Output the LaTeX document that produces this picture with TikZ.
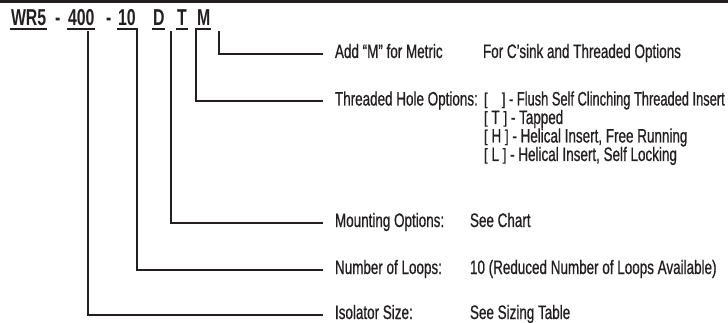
\documentclass[tikz,border=0pt]{standalone}
\usepackage{fontspec}
\setmainfont[FakeStretch=0.69,FakeBold=0.7]{Liberation Sans}
\newfontfamily\hdrfont[FakeStretch=0.69]{Liberation Sans}
\definecolor{ink}{HTML}{231F20}
\newcommand\lbrk{\raisebox{0.8pt}{\scalebox{1}[0.85]{[}}}
\newcommand\rbrk{\raisebox{0.8pt}{\scalebox{1}[0.85]{]}}}
\begin{document}
\begin{tikzpicture}[x=1pt,y=-1pt,line width=2pt,draw=ink,line join=miter,
  lbl/.style={anchor=base west,inner xsep=11pt,inner ysep=0pt,text=ink,font=\fontsize{19.5}{19.5}\selectfont},
  val/.style={anchor=base west,inner sep=0pt,text=ink,font=\fontsize{19.5}{19.5}\selectfont},
  hdr/.style={anchor=base west,inner sep=0pt,text=ink,font=\hdrfont\bfseries\fontsize{23}{23}\selectfont}]
\useasboundingbox (0,0) rectangle (728,323);
\fill[ink] (0,0) rectangle (728,2.8);
% header
\node[hdr] (wr5) at (10,26) {WR5};
\node[hdr] (d1) at (54,26) {-};
\node[hdr] (f400) at (67,26) {400};
\node[hdr] (d2) at (105,26) {-};
\node[hdr] (ten) at (117,26) {10};
\node[hdr] (dd) at (152,26) {D};
\node[hdr] (tt) at (176,26) {T};
\node[hdr] (mm) at (196,26) {M};
\foreach \n in {wr5,f400,dd,tt}
  \draw ([yshift=-3.5pt]\n.base west) -- ([yshift=-3.5pt]\n.base east);
% start points
\coordinate (cA) at (219.3,31);
\coordinate (cC) at (171,31);
\coordinate (cE) at (88,31);
% labels
\node[lbl] (addm) at (323,58) {Add “M” for Metric};
\node[val] (addmv) at (482,58) {For C’sink and Threaded Options};
\node[lbl] (thr) at (323,105.5) {Threaded Hole Options:};
\node[val] (t0) at (483,105.5) {\scalebox{0.955}[1]{\lbrk\hspace{15pt}\rbrk{} - Flush Self Clinching Threaded Insert}};
\node[val] (t1) at (483,124) {\lbrk{} T \rbrk{} - Tapped};
\node[val] (t2) at (483,142.5) {\lbrk{} H \rbrk{} - Helical Insert, Free Running};
\node[val] (t3) at (483,161) {\lbrk{} L \rbrk{} - Helical Insert, Self Locking};
\node[lbl] (mnt) at (323,227) {Mounting Options:};
\node[val] (mntv) at (469,227) {See Chart};
\node[lbl] (loops) at (323,274) {Number of Loops:};
\node[val] (loopsv) at (469,274) {10 (Reduced Number of Loops Available)};
\node[lbl] (size) at (323,319) {Isolator Size:};
\node[val] (sizev) at (469,319) {See Sizing Table};
% connectors
\draw (cA) |- ([yshift=4pt]addm.base west);
\draw ([yshift=-3.5pt]mm.base east) -- ([yshift=-3.5pt]mm.base west) |- ([yshift=4pt]thr.base west);
\draw (cC) |- ([yshift=4pt]mnt.base west);
\draw ([yshift=-3.5pt]ten.base west) -- ([yshift=-3.5pt]ten.base east) |- ([yshift=4pt]loops.base west);
\draw (cE) |- ([yshift=4pt]size.base west);
\end{tikzpicture}
\end{document}
